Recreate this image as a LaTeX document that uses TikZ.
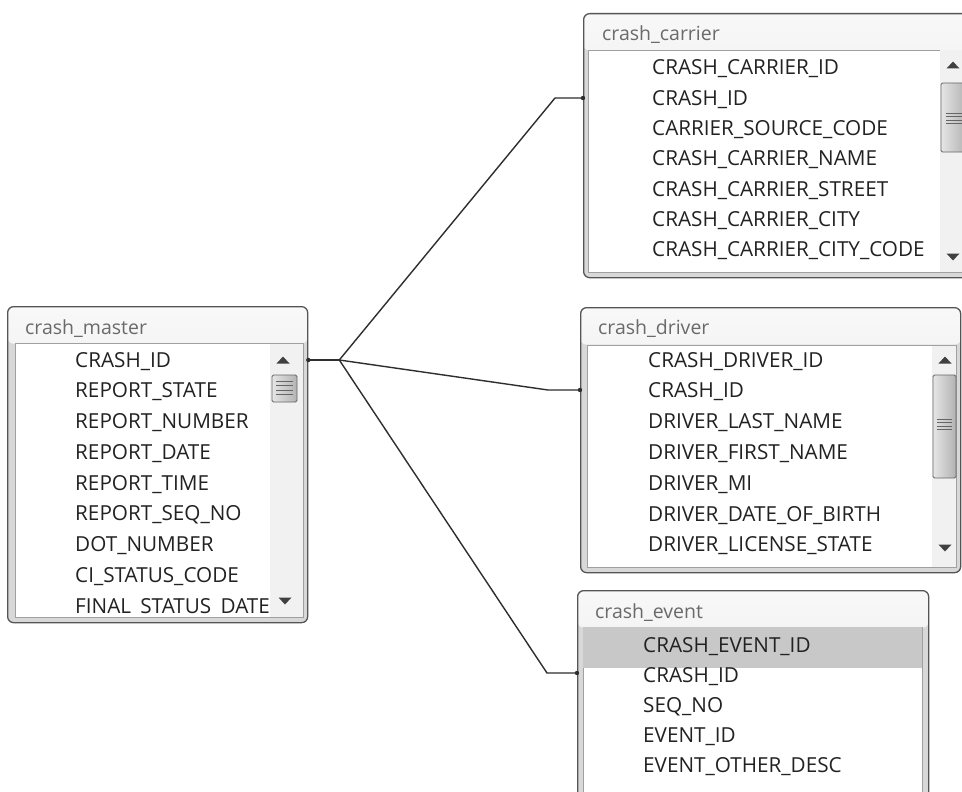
\documentclass[tikz,border=0pt]{standalone}
\usepackage{fontspec}
\setmainfont{Open Sans}
\usetikzlibrary{calc}
\definecolor{framegray}{HTML}{555555}
\definecolor{bordergray}{HTML}{D8D8D8}
\definecolor{titletop}{HTML}{F8F8F8}
\definecolor{titlebot}{HTML}{E0E0E0}
\definecolor{innerline}{HTML}{A0A0A0}
\definecolor{fieldtext}{HTML}{222222}
\definecolor{titletext}{HTML}{6A6A6A}
\definecolor{scrollbg}{HTML}{F1F1F1}
\definecolor{selrow}{HTML}{C8C8C8}
\definecolor{arrowgray}{HTML}{404040}
\definecolor{thumbline}{HTML}{666666}
\definecolor{connline}{HTML}{2E2E2E}
\tikzset{
  tableframe/.style={draw=framegray, line width=1.3pt, rounded corners=6pt, fill=bordergray,
    anchor=north west, inner sep=0pt,
    path picture={\shade[top color=titletop, bottom color=titlebot]
      (path picture bounding box.north west) rectangle ([yshift=-37pt]path picture bounding box.north east);}},
  whitearea/.style={fill=white, draw=innerline, line width=0.6pt},
  scrollcol/.style={fill=scrollbg},
  field/.style={anchor=base west, inner sep=0pt, text=fieldtext, font=\fontsize{20.7}{24}\selectfont},
  tabtitle/.style={anchor=base west, inner sep=0pt, text=titletext, font=\fontsize{19.5}{22}\selectfont},
  thumb/.style={draw=thumbline, line width=0.8pt, rounded corners=1.5pt, left color=white!90!black, right color=white!70!black},
  conn/.style={draw=connline, line width=1.4pt},
  enddot/.style={fill=connline}
}
\newcommand{\dbUp}[2]{\fill[arrowgray] (#1-6.5,#2+3.5) -- (#1+6.5,#2+3.5) -- (#1,#2-3.5) -- cycle;}
\newcommand{\dbDown}[2]{\fill[arrowgray] (#1-6.5,#2-3.5) -- (#1+6.5,#2-3.5) -- (#1,#2+3.5) -- cycle;}
\begin{document}
\begin{tikzpicture}[x=1pt,y=-1pt]
\useasboundingbox (0,0) rectangle (962,792);
\clip (0,0) rectangle (962,792);
\fill[white] (0,0) rectangle (962,792);

% ---------------- crash_master ----------------
\node[tableframe, minimum width=300pt, minimum height=316pt] (master) at (7,306) {};
\node[tabtitle] (mt) at (25,334) {crash\_master};
\draw[whitearea] (15,343) rectangle (303,617);
\fill[scrollcol] (270,343.5) rectangle (302.6,616.6);
\begin{scope}
\clip (15,343) rectangle (276,613.8);
\foreach \t [count=\i] in {CRASH\_ID, REPORT\_STATE, REPORT\_NUMBER, REPORT\_DATE, REPORT\_TIME, REPORT\_SEQ\_NO, DOT\_NUMBER, CI\_STATUS\_CODE, FINAL\_STATUS\_DATE}
  \node[field] (m\i) at (75,{367+30.75*(\i-1)}) {\t};
\end{scope}
\dbUp{283}{360}
\draw[thumb] (272,375) rectangle (297,402);
\foreach \yy in {381,385.5,390,394.5}
  \draw[thumbline, line width=0.7pt] (276,\yy) -- (293,\yy);
\dbDown{285}{601}

% ---------------- crash_carrier ----------------
\node[tableframe, minimum width=385pt, minimum height=264pt] (carrier) at (583,13) {};
\node[tabtitle] (ct) at (602,41) {crash\_carrier};
\draw[whitearea] (588,50) rectangle (964,272);
\fill[scrollcol] (940,50.5) rectangle (963.6,271.6);
\foreach \t [count=\i] in {CRASH\_CARRIER\_ID, CRASH\_ID, CARRIER\_SOURCE\_CODE, CRASH\_CARRIER\_NAME, CRASH\_CARRIER\_STREET, CRASH\_CARRIER\_CITY, CRASH\_CARRIER\_CITY\_CODE}
  \node[field] (c\i) at (652,{75+30.3*(\i-1)}) {\t};
\dbUp{953}{65}
\draw[thumb] (941,83) rectangle (966,152);
\foreach \yy in {113,116.5,120,123.5}
  \draw[thumbline, line width=0.7pt] (946,\yy) -- (962,\yy);
\dbDown{953}{257}

% ---------------- crash_driver ----------------
\node[tableframe, minimum width=380pt, minimum height=265pt] (driver) at (580,307) {};
\node[tabtitle] (dt) at (598,334) {crash\_driver};
\draw[whitearea] (587,345) rectangle (956,567);
\fill[scrollcol] (932,345.5) rectangle (955.6,566.6);
\foreach \t [count=\i] in {CRASH\_DRIVER\_ID, CRASH\_ID, DRIVER\_LAST\_NAME, DRIVER\_FIRST\_NAME, DRIVER\_MI, DRIVER\_DATE\_OF\_BIRTH, DRIVER\_LICENSE\_STATE}
  \node[field] (d\i) at (648,{367+30.8*(\i-1)}) {\t};
\dbUp{945}{360}
\draw[thumb] (933,375) rectangle (956,478);
\foreach \yy in {419,422.5,426,429.5}
  \draw[thumbline, line width=0.7pt] (937,\yy) -- (952,\yy);
\dbDown{945}{548}

% ---------------- crash_event ----------------
\node[tableframe, minimum width=351pt, minimum height=230pt] (event) at (577,590) {};
\node[tabtitle] (et) at (595,618) {crash\_event};
\draw[whitearea] (583,627) rectangle (922,815);
\fill[selrow] (583.3,627.3) rectangle (921.7,668);
\foreach \t [count=\i] in {CRASH\_EVENT\_ID, CRASH\_ID, SEQ\_NO, EVENT\_ID, EVENT\_OTHER\_DESC}
  \node[field] (e\i) at (643,{652+30*(\i-1)}) {\t};

% ---------------- connectors ----------------
\coordinate (mstart) at (master.east |- 0,360);
\coordinate (J) at ($(mstart)+(31,0)$);
\coordinate (cend) at (carrier.west |- 0,98);
\coordinate (dend) at (driver.west |- 0,390);
\coordinate (eend) at (event.west |- 0,673);
\coordinate (cbend) at ($(cend)+(-28,0)$);
\coordinate (dbend) at ($(dend)+(-32,0)$);
\coordinate (ebend) at ($(eend)+(-30,0)$);
\draw[conn] (mstart) -- (J);
\draw[conn] (J) -- (cbend) -- (cend);
\draw[conn] (J) -- (dbend) -- (dend);
\draw[conn] (J) -- (ebend) -- (eend);
\foreach \p in {mstart,cend,dend,eend}
  \fill[enddot] (\p) circle (2.2);
\end{tikzpicture}
\end{document}
